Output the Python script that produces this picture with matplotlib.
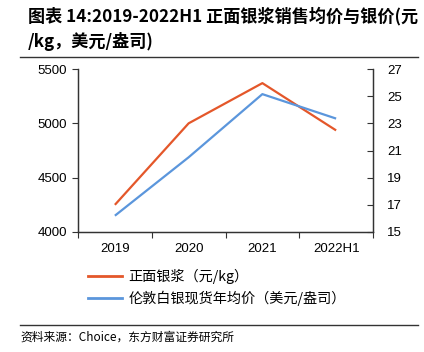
import matplotlib
matplotlib.use("Agg")
import matplotlib.pyplot as plt
from matplotlib.lines import Line2D

plt.rcParams['font.family'] = ['Noto Sans CJK SC', 'DejaVu Sans']

categories = ['2019', '2020', '2021', '2022H1']
paste_price = [4250, 5000, 5370, 4935]       # 正面银浆 (元/kg)
silver_price = [16.2, 20.5, 25.15, 23.35]     # 伦敦白银现货年均价 (美元/盎司)
left_ticks = [4000, 4500, 5000, 5500]
right_ticks = [15, 17, 19, 21, 23, 25, 27]

title = '图表 14:2019-2022H1 正面银浆销售均价与银价(元\n/kg，美元/盎司)'
label1 = '正面银浆（元/kg）'
label2 = '伦敦白银现货年均价（美元/盎司）'
source = '资料来源：Choice，东方财富证券研究所'

orange = '#E4572A'
blue = '#5B96DC'
num_font = 'Liberation Sans'

fig = plt.figure(figsize=(4.24, 3.52), dpi=100)
ax = fig.add_axes([78/424, 1-232/352, (373-78)/424, (232-69)/352])
ax2 = ax.twinx()

x = list(range(len(categories)))
ax.plot(x, paste_price, color=orange, lw=1.6, solid_capstyle='butt')
ax2.plot(x, silver_price, color=blue, lw=1.6, solid_capstyle='butt')

ax.set_xlim(-0.5, len(categories) - 0.5)
ax.set_ylim(4000, 5500)
ax2.set_ylim(15, 27)
ax.set_yticks(left_ticks)
ax2.set_yticks(right_ticks)
ax.set_xticks([i - 0.5 for i in range(len(categories) + 1)], minor=False)
ax.set_xticklabels([])
ax.set_xticks(x, minor=True)
ax.set_xticklabels(categories, minor=True, fontfamily=num_font, fontsize=9.5)
ax.tick_params(axis='x', which='minor', length=0, pad=8)
ax.tick_params(axis='x', which='major', length=4, direction='out', width=0.8, color='#333333')
ax.tick_params(axis='y', length=4, direction='out', width=0.8, color='#333333', pad=4)
ax2.tick_params(axis='y', length=4, direction='in', width=0.8, color='#333333', pad=10)
for lab in ax.get_yticklabels():
    lab.set_fontfamily(num_font); lab.set_fontsize(9.5)
for lab in ax2.get_yticklabels():
    lab.set_fontfamily(num_font); lab.set_fontsize(9.5)

for a in (ax, ax2):
    a.spines['top'].set_visible(False)
    for s in ('left', 'right', 'bottom'):
        a.spines[s].set_color('#333333')
        a.spines[s].set_linewidth(0.9)

handles = [Line2D([0], [0], color=orange, lw=2), Line2D([0], [0], color=blue, lw=2)]
fig.legend(handles, [label1, label2], loc='upper left', bbox_to_anchor=(88/424, 1-269/352),
           frameon=False, fontsize=10.2, handlelength=2.4, handletextpad=0.45, labelspacing=0.45,
           borderaxespad=0, borderpad=0)

fig.text(28/424, 1-7/352, title, ha='left', va='top', fontsize=12.3, fontweight='bold',
         linespacing=1.4)
fig.add_artist(Line2D([20/424, 418/424], [1-57/352, 1-57/352], color='#333333', lw=1.0))
fig.add_artist(Line2D([20/424, 418/424], [1-325/352, 1-325/352], color='#333333', lw=1.0))
fig.text(20/424, 1-337/352, source, ha='left', va='center', fontsize=8.5)

fig.savefig('out.png', dpi=100)
